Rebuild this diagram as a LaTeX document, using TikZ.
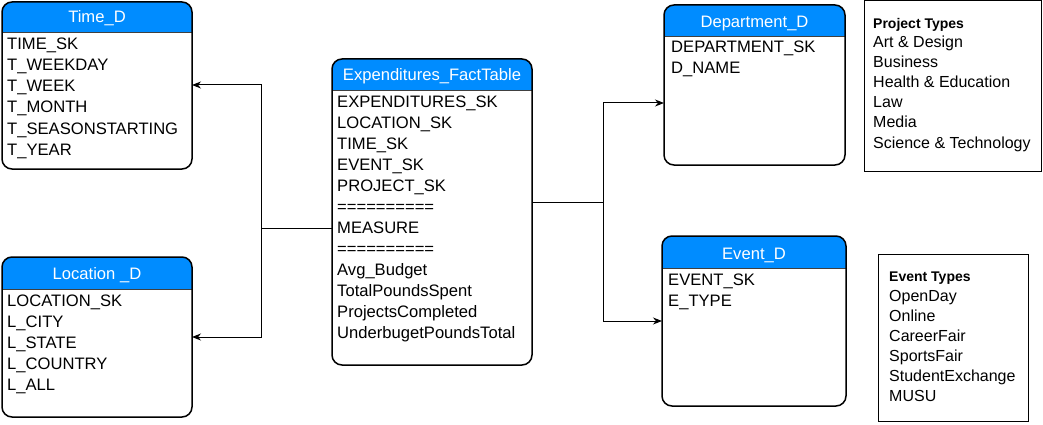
\documentclass[tikz,border=0pt]{standalone}
\usepackage{fontspec}
\setmainfont{Liberation Sans}
\usetikzlibrary{arrows.meta,calc}
\definecolor{headblue}{RGB}{0,140,255}
\tikzset{
  tbl/.style={rectangle, inner sep=0pt, outer sep=0pt},
  border/.style={draw=black, line width=1.5pt, rounded corners=10pt},
  sep/.style={draw=black!75, line width=1pt},
  row/.style={anchor=base west, inner sep=0pt, font=\fontsize{16.6}{19}\selectfont},
  legrow/.style={anchor=base west, inner sep=0pt, font=\fontsize{16}{19}\selectfont},
  title/.style={anchor=base, inner sep=0pt, text=white, font=\fontsize{16.6}{19}\selectfont},
  legendhead/.style={anchor=base west, inner sep=0pt, font=\fontsize{14}{17}\selectfont\bfseries},
  legendbox/.style={draw=black, line width=1pt},
  conn/.style={draw=black, line width=1pt},
  arr/.style={conn, -{Stealth[length=9pt,width=7pt]}}
}
\newcommand{\mkheader}[2]{%
  \begin{scope}
    \clip[rounded corners=10pt] (#1.north west) rectangle (#1.south east);
    \fill[headblue] (#1.north west) rectangle ($(#1.north east)+(0,#2)$);
  \end{scope}
  \draw[sep] ($(#1.north west)+(0,#2)$) -- ($(#1.north east)+(0,#2)$);
  \draw[border] (#1.north west) rectangle (#1.south east);
}
\begin{document}
\begin{tikzpicture}[x=1pt,y=-1pt]
\useasboundingbox (0,0) rectangle (1043,425);

% ---------- Time_D ----------
\node[tbl, minimum width=190pt, minimum height=167pt] (timeD) at (97,85.5) {};
\mkheader{timeD}{31}
\node[title] (timeD-t) at (97,23) {Time\_D};
\foreach \t [count=\i] in {TIME\_SK,T\_WEEKDAY,T\_WEEK,T\_MONTH,T\_SEASONSTARTING,T\_YEAR}
  \node[row] (timeD-\i) at (7,{50+21*(\i-1)}) {\t};

% ---------- Location_D ----------
\node[tbl, minimum width=190pt, minimum height=160pt] (locD) at (97,337) {};
\mkheader{locD}{32}
\node[title] (locD-t) at (97,279) {Location \_D};
\foreach \t [count=\i] in {LOCATION\_SK,L\_CITY,L\_STATE,L\_COUNTRY,L\_ALL}
  \node[row] (locD-\i) at (7,{306+21*(\i-1)}) {\t};

% ---------- Expenditures_FactTable ----------
\node[tbl, minimum width=200pt, minimum height=306pt] (fact) at (432,212) {};
\mkheader{fact}{32}
\node[title] (fact-t) at (432,81) {Expenditures\_FactTable};
\foreach \t [count=\i] in {EXPENDITURES\_SK,LOCATION\_SK,TIME\_SK,EVENT\_SK,PROJECT\_SK,==========,MEASURE,==========,Avg\_Budget,TotalPoundsSpent,ProjectsCompleted,UnderbugetPoundsTotal}
  \node[row] (fact-\i) at (337,{108+20.95*(\i-1)}) {\t};

% ---------- Department_D ----------
\node[tbl, minimum width=181pt, minimum height=160pt] (depD) at (754.5,85) {};
\mkheader{depD}{32}
\node[title] (depD-t) at (754.5,28) {Department\_D};
\foreach \t [count=\i] in {DEPARTMENT\_SK,D\_NAME}
  \node[row] (depD-\i) at (671,{53+21*(\i-1)}) {\t};

% ---------- Event_D ----------
\node[tbl, minimum width=184pt, minimum height=170pt] (evD) at (754,321) {};
\mkheader{evD}{32}
\node[title] (evD-t) at (754,259) {Event\_D};
\foreach \t [count=\i] in {EVENT\_SK,E\_TYPE}
  \node[row] (evD-\i) at (668,{285+21*(\i-1)}) {\t};

% ---------- Legends ----------
\node[tbl, legendbox, minimum width=177pt, minimum height=170pt] (projL) at (952.5,86) {};
\node[legendhead] (projL-h) at (873,29) {Project Types};
\foreach \t [count=\i] in {Art \& Design,Business,Health \& Education,Law,Media,Science \& Technology}
  \node[legrow] (projL-\i) at (873,{48+20*(\i-1)}) {\t};

\node[tbl, legendbox, minimum width=150pt, minimum height=167pt] (evL) at (953,337.5) {};
\node[legendhead] (evL-h) at (889,281) {Event Types};
\foreach \t [count=\i] in {OpenDay,Online,CareerFair,SportsFair,StudentExchange,MUSU}
  \node[legrow] (evL-\i) at (889,{301+20*(\i-1)}) {\t};

% ---------- Connectors ----------
\coordinate (jl) at (261,228);
\coordinate (jr) at (603,202);
\coordinate (tin) at (0,85);
\coordinate (lin) at (0,337);
\coordinate (din) at (0,103);
\coordinate (ein) at (0,321);
\draw[conn] (fact.west |- jl) -- (jl);
\draw[arr] (jl) |- (timeD.east |- tin);
\draw[arr] (jl) |- (locD.east |- lin);
\draw[conn] (fact.east |- jr) -- (jr);
\draw[arr] (jr) |- (depD.west |- din);
\draw[arr] (jr) |- (evD.west |- ein);
\end{tikzpicture}
\end{document}
